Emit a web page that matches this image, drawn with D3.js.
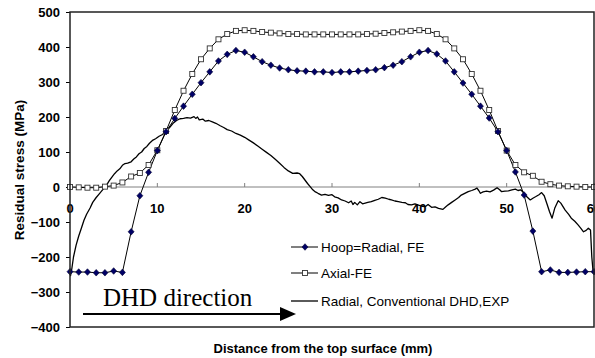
<!DOCTYPE html>
<html>
<head>
<meta charset="utf-8">
<script src="https://cdn.jsdelivr.net/npm/d3@7"></script>
<style>
  html, body { margin: 0; padding: 0; background: #fff; }
  svg { display: block; }
</style>
</head>
<body>
<div id="chart"></div>
<script>
// distances (mm) of the FE nodes
const feX = [0, 1, 2, 3, 4, 5, 6, 7, 8, 9, 10, 11, 12, 13, 14, 15, 16, 17, 18, 19, 20,
  21, 22, 23, 24, 25, 26, 27, 28, 29, 30, 31, 32, 33, 34, 35, 36, 37, 38, 39, 40,
  41, 42, 43, 44, 45, 46, 47, 48, 49, 50, 51, 52, 53, 54, 55, 56, 57, 58, 59, 60];

// Hoop=Radial, FE
const hoopFE = [-242, -243, -243, -245, -245, -240, -244, -128, -25, 42, 104, 158, 196, 231, 265, 298, 329, 360, 379, 390, 385,
  372, 358, 348, 340, 335, 332, 331, 329, 329, 327, 329, 329, 331, 333, 335, 341, 348, 358, 372, 385,
  390, 380, 360, 329, 297, 265, 231, 197, 158, 104, 43, -23, -126, -242, -237, -244, -244, -243, -242, -242];

// Axial-FE
const axialFE = [0, -1, -2, -2, 1, 4, 13, 30, 40, 63, 105, 160, 220, 275, 323, 365, 396, 422, 437, 446, 448,
  446, 443, 441, 439, 437, 437, 436, 436, 436, 436, 436, 436, 436, 437, 438, 440, 442, 444, 446, 448,
  446, 437, 422, 396, 365, 323, 275, 220, 160, 104, 63, 42, 32, 15, 8, 4, 2, 1, 0, 0];

// Radial, Conventional DHD, EXP
const expX = [0.05, 0.2, 0.4, 0.7, 1.0, 1.3, 1.6, 1.9, 2.3, 2.6, 3.0, 3.4, 3.8, 4.1, 4.5, 4.8, 5.1, 5.4, 5.7, 6.0,
  6.3, 6.6, 7.0, 7.3, 7.6, 7.9, 8.2, 8.5, 8.8, 9.1, 9.5, 9.8, 10.2, 10.6, 11.0, 11.4, 11.8, 12.2, 12.6, 13.0,
  13.4, 13.8, 14.2, 14.4, 14.6, 14.8, 15.2, 15.5, 15.9, 16.3, 16.7, 17.2, 17.6, 18.0, 18.5, 19.0, 19.5, 20.0, 20.5, 21.0,
  21.5, 22.0, 22.5, 23.0, 23.5, 24.0, 24.5, 25.0, 25.5, 26.0, 26.3, 26.6, 26.9, 27.2, 27.5, 27.8, 28.1, 28.4, 28.8, 29.2,
  29.6, 30.0, 30.3, 30.7, 31.1, 31.5, 31.9, 32.2, 32.4, 32.6, 32.9, 33.2, 33.5, 33.8, 34.1, 34.5, 34.9, 35.3, 35.7, 36.1,
  36.5, 36.8, 37.2, 37.6, 38.0, 38.4, 38.7, 39.1, 39.5, 39.9, 40.3, 40.7, 41.0, 41.4, 41.8, 42.2, 42.7, 43.0, 43.3, 43.7,
  44.1, 44.5, 44.8, 45.2, 45.6, 46.0, 46.4, 46.6, 46.8, 47.0, 47.3, 47.7, 48.1, 48.5, 48.9, 49.2, 49.4, 49.8, 50.2, 50.6,
  51.0, 51.3, 51.6, 51.9, 52.1, 52.4, 52.7, 53.0, 53.3, 53.7, 54.0, 54.3, 54.6, 54.9, 55.2, 55.5, 55.9, 56.2, 56.7, 57.1,
  57.4, 57.8, 58.2, 58.5, 58.8, 59.1, 59.35, 59.6, 59.75, 59.9];
const expY = [-255, -235, -200, -166, -140, -118, -95, -78, -60, -44, -30, -18, -6, 2, 18, 28, 38, 46, 52, 62,
  67, 68, 72, 80, 86, 95, 100, 110, 116, 125, 134, 138, 145, 150, 160, 170, 182, 190, 195, 196,
  198, 197, 201, 196, 200, 192, 194, 188, 190, 186, 182, 175, 170, 164, 160, 153, 148, 142, 134, 126,
  117, 108, 99, 90, 79, 68, 56, 46, 39, 40, 38, 30, 20, 10, 1, -8, -14, -18, -23, -21,
  -24, -22, -28, -31, -37, -40, -45, -40, -50, -44, -51, -42, -48, -46, -44, -42, -38, -35, -30, -32,
  -35, -37, -40, -42, -44, -45, -50, -51, -48, -52, -55, -56, -50, -58, -57, -61, -64, -57, -51, -44,
  -37, -30, -23, -18, -13, -10, -6, -3, -10, -18, -14, -12, -14, -9, -2, -8, -13, -12, -11, -8,
  -6, -10, -8, -15, -23, -30, -37, -32, -28, -22, -16, -25, -47, -70, -89, -61, -39, -46, -66, -78,
  -89, -98, -109, -118, -128, -124, -118, -123, -200, -243];

const xTicks = [0, 10, 20, 30, 40, 50, 60];
const yTicks = [-400, -300, -200, -100, 0, 100, 200, 300, 400, 500];
const seriesNames = ["Hoop=Radial, FE", "Axial-FE", "Radial, Conventional DHD,EXP"];

const width = 595, height = 358;
const plot = {left: 70, right: 594, top: 12, bottom: 327};
const sans = "'Liberation Sans', Arial, sans-serif";

const svg = d3.select('#chart').append('svg')
  .attr('width', width)
  .attr('height', height);

const x = d3.scaleLinear().domain([0, 60]).range([plot.left, plot.right]);
const y = d3.scaleLinear().domain([-400, 500]).range([plot.bottom, plot.top]);

// zero line (category axis)
svg.append('line')
  .attr('x1', plot.left).attr('x2', plot.right)
  .attr('y1', y(0)).attr('y2', y(0))
  .attr('stroke', '#808080').attr('stroke-width', 1);

// x ticks sit on the zero line, pointing up
svg.append('g').selectAll('line')
  .data(xTicks.slice(1))
  .join('line')
  .attr('x1', d => x(d)).attr('x2', d => x(d))
  .attr('y1', y(0) - 4).attr('y2', y(0))
  .attr('stroke', '#808080');

svg.append('g').selectAll('text')
  .data(xTicks)
  .join('text')
  .attr('x', d => x(d))
  .attr('y', y(0) + 26)
  .attr('text-anchor', 'middle')
  .style('font-family', sans)
  .style('font-weight', 'bold')
  .style('font-size', '13px')
  .text(d => d);

// y axis
const yAxis = d3.axisLeft(y).tickValues(yTicks).tickSize(4).tickPadding(6);
svg.append('g')
  .attr('transform', `translate(${plot.left},0)`)
  .call(yAxis)
  .call(g => g.select('.domain').remove())
  .call(g => g.selectAll('line').attr('stroke', '#000'))
  .call(g => g.selectAll('text')
    .style('font-family', sans)
    .style('font-weight', 'bold')
    .style('font-size', '13px')
    .attr('fill', '#000'));

// line generator
const line = d3.line()
  .x(d => x(d[0]))
  .y(d => y(d[1]));

const hoopData = feX.map((d, i) => [d, hoopFE[i]]);
const axialData = feX.map((d, i) => [d, axialFE[i]]);
const expData = expX.map((d, i) => [d, expY[i]]);

svg.append('path')
  .datum(expData)
  .attr('d', line)
  .attr('fill', 'none')
  .attr('stroke', '#000')
  .attr('stroke-width', 1.3)
  .attr('stroke-linejoin', 'round');

svg.append('path')
  .datum(axialData)
  .attr('d', line)
  .attr('fill', 'none')
  .attr('stroke', '#000')
  .attr('stroke-width', 1);

svg.append('path')
  .datum(hoopData)
  .attr('d', line)
  .attr('fill', 'none')
  .attr('stroke', '#000')
  .attr('stroke-width', 1);

// markers
const diamond = 'M0,-3.3L3,0L0,3.3L-3,0Z';

function squareMark(sel, cx, cy) {
  sel.append('rect')
    .attr('x', cx - 2.5).attr('y', cy - 2.5)
    .attr('width', 5).attr('height', 5)
    .attr('fill', '#fff')
    .attr('stroke', '#333')
    .attr('stroke-width', 0.9);
}
function diamondMark(sel, cx, cy) {
  sel.append('path')
    .attr('d', diamond)
    .attr('transform', `translate(${cx},${cy})`)
    .attr('fill', '#000066')
    .attr('stroke', '#000033')
    .attr('stroke-width', 0.6);
}

const axialG = svg.append('g');
axialData.forEach(d => squareMark(axialG, x(d[0]), y(d[1])));
const hoopG = svg.append('g');
hoopData.forEach(d => diamondMark(hoopG, x(d[0]), y(d[1])));

// plot frame
svg.append('rect')
  .attr('x', plot.left).attr('y', plot.top)
  .attr('width', plot.right - plot.left)
  .attr('height', plot.bottom - plot.top)
  .attr('fill', 'none')
  .attr('stroke', '#222')
  .attr('stroke-width', 1.5);

// legend
const legY = [247, 273, 301];
const leg = svg.append('g');
seriesNames.forEach((name, i) => {
  leg.append('line')
    .attr('x1', 291).attr('x2', 318)
    .attr('y1', legY[i]).attr('y2', legY[i])
    .attr('stroke', '#000').attr('stroke-width', i === 2 ? 1.3 : 1);
  if (i === 0) diamondMark(leg, 305, legY[i]);
  if (i === 1) squareMark(leg, 305, legY[i]);
  leg.append('text')
    .attr('x', 321).attr('y', legY[i])
    .attr('dy', '0.36em')
    .style('font-family', sans)
    .style('font-size', '13.5px')
    .text(name);
});

// DHD direction annotation
svg.append('text')
  .attr('x', 103).attr('y', 306)
  .style('font-family', "'Liberation Serif', 'Times New Roman', serif")
  .style('font-size', '25px')
  .text('DHD direction');

svg.append('line')
  .attr('x1', 83).attr('x2', 283)
  .attr('y1', 314).attr('y2', 314)
  .attr('stroke', '#000').attr('stroke-width', 2);
svg.append('path')
  .attr('d', 'M280,307L296,314L280,321Z')
  .attr('fill', '#000');

// axis titles
svg.append('text')
  .attr('x', 323).attr('y', 353)
  .attr('text-anchor', 'middle')
  .style('font-family', sans)
  .style('font-weight', 'bold')
  .style('font-size', '13px')
  .text('Distance from the top surface (mm)');

svg.append('text')
  .attr('transform', 'translate(24,170) rotate(-90)')
  .attr('text-anchor', 'middle')
  .style('font-family', sans)
  .style('font-weight', 'bold')
  .style('font-size', '13.5px')
  .text('Residual stress (MPa)');
</script>
</body>
</html>
